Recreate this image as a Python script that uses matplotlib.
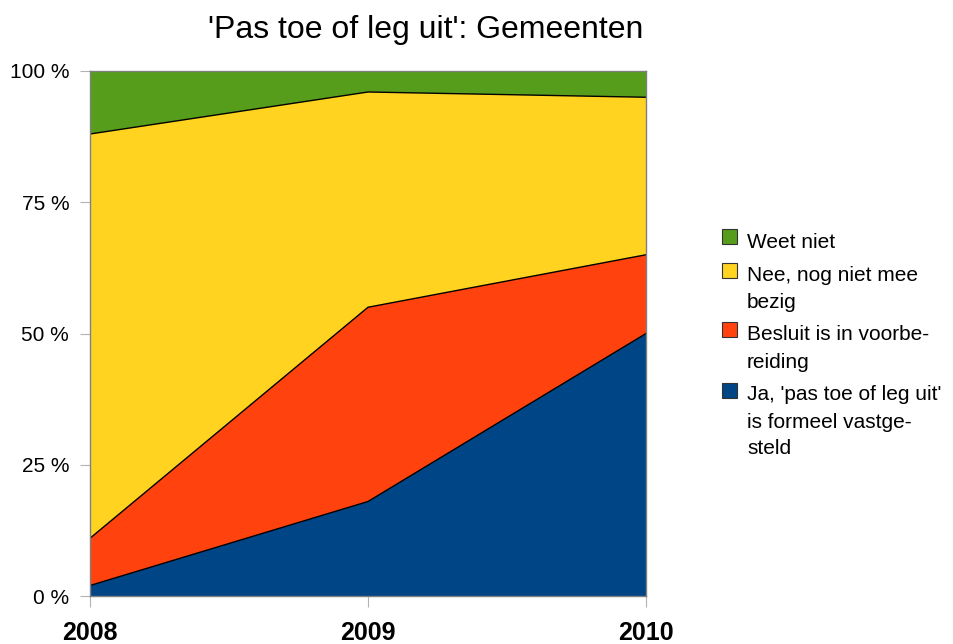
import numpy as np
import matplotlib.pyplot as plt
from matplotlib.patches import Rectangle

plt.rcParams['font.family'] = ['Liberation Sans', 'DejaVu Sans']

years = ['2008', '2009', '2010']
ja = [2, 18, 50]
besluit = [9, 37, 15]
nee = [77, 41, 30]
weet_niet = [12, 4, 5]

labels = ["Ja, 'pas toe of leg uit'\nis formeel vastge-\nsteld",
          'Besluit is in voorbe-\nreiding',
          'Nee, nog niet mee\nbezig',
          'Weet niet']
colors = ['#004586', '#FF420E', '#FFD320', '#579D1C']

W, H = 954, 644
fig = plt.figure(figsize=(W/100, H/100), dpi=100)
ax = fig.add_axes([90/W, 1-596/H, (646-90)/W, (596-71)/H])

x = np.arange(len(years))
series = [ja, besluit, nee, weet_niet]
ax.stackplot(x, *series, colors=colors, edgecolor='none')
# thin black line on top of every layer
cum = np.zeros(len(years))
for s in series[:-1]:
    cum = cum + np.array(s)
    ax.plot(x, cum, color='black', lw=1)

ax.set_xlim(0, 2)
ax.set_ylim(0, 100)
ax.set_yticks([0, 25, 50, 75, 100])
ax.set_yticklabels(['0 %', '25 %', '50 %', '75 %', '100 %'], fontsize=15)
ax.set_xticks(x)
ax.set_xticklabels(years, fontsize=18, fontweight='bold')
ax.tick_params(axis='y', length=7, color='#b3b3b3', pad=8)
ax.tick_params(axis='x', length=8, color='#b3b3b3', pad=10)
for sp in ax.spines.values():
    sp.set_color('#808080')
    sp.set_linewidth(1)
    sp.set_zorder(5)

fig.text(426/W, 1-30/H, "'Pas toe of leg uit': Gemeenten",
         fontsize=23, ha='center', va='center')

# legend, drawn by hand so the box sits next to the first line of each label
y = 242
for lab, c in zip(labels[::-1], colors[::-1]):
    lines = lab.split('\n')
    fig.add_artist(Rectangle((722/W, 1-(y-5+7.5)/H), 15/W, 15/H,
                             transform=fig.transFigure, facecolor=c,
                             edgecolor='#333333', lw=0.8))
    for i, ln in enumerate(lines):
        fig.text(747/W, 1-(y+27*i)/H, ln, fontsize=15, ha='left', va='center')
    y += 27*len(lines) + 6

plt.savefig('out.png', dpi=100)
